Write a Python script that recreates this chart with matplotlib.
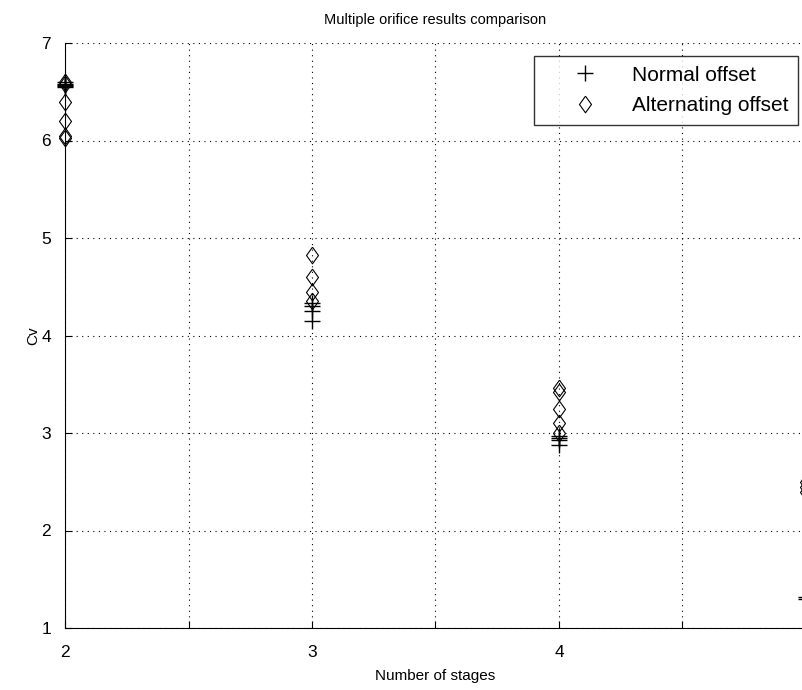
import numpy as np
import matplotlib
matplotlib.use("Agg")
import matplotlib.pyplot as plt

plt.rcParams['font.family'] = ['Liberation Sans', 'DejaVu Sans']

# Cv readings per stage count
normal_2 = [6.55, 6.57, 6.6, 6.58, 6.56]
normal_3 = [4.33, 4.3, 4.25, 4.15]
normal_4 = [2.97, 2.95, 2.93, 2.88]
normal_5 = [1.32, 1.3]

alt_2 = [6.6, 6.58, 6.4, 6.2, 6.05, 6.03]
alt_3 = [4.83, 4.6, 4.45, 4.35]
alt_4 = [3.46, 3.42, 3.25, 3.1, 3.0]
alt_5 = [2.5, 2.45, 2.4]

stages = [2, 3, 4, 5]
normal = [normal_2, normal_3, normal_4, normal_5]
alternating = [alt_2, alt_3, alt_4, alt_5]

# diamond a little taller than wide
diamond = [(0, 1), (0.72, 0), (0, -1), (-0.72, 0), (0, 1)]

fig = plt.figure(figsize=(8.03, 6.9), dpi=100)
ax = fig.add_axes([65 / 803, 62 / 690, 741 / 803, 585 / 690])

nx = np.concatenate([[s] * len(v) for s, v in zip(stages, normal)])
ny = np.concatenate(normal)
ax_x = np.concatenate([[s] * len(v) for s, v in zip(stages, alternating)])
ay = np.concatenate(alternating)

ax.plot(nx, ny, '+', color='black', markersize=11, markeredgewidth=1.0,
        label='Normal offset', clip_on=False)
ax.plot(ax_x, ay, marker=diamond, linestyle='none', color='black',
        markerfacecolor='none', markersize=12, markeredgewidth=0.8,
        label='Alternating offset', clip_on=False)

ax.set_xlim(2, 5)
ax.set_ylim(1, 7)
ax.set_xticks([2, 2.5, 3, 3.5, 4, 4.5, 5])
ax.set_xticklabels(['2', '', '3', '', '4', '', '5'])
ax.set_yticks([1, 2, 3, 4, 5, 6, 7])

ax.grid(True, linestyle=(0, (1, 4)), color='black', linewidth=0.8)
ax.spines['top'].set_visible(False)
ax.spines['right'].set_visible(False)
ax.tick_params(direction='in', length=5, labelsize=12.5)
ax.tick_params(axis='x', pad=12)
ax.tick_params(axis='y', pad=10)

ax.set_title('Multiple orifice results comparison', fontsize=10.5, pad=14)
ax.set_xlabel('Number of stages', fontsize=11, labelpad=7)
ax.set_ylabel('Cv', fontsize=11, labelpad=1)

leg = ax.legend(loc='upper right', bbox_to_anchor=((798 - 65) / 741, 1 - 13 / 585),
                fontsize=15, frameon=True, fancybox=False, edgecolor='black',
                handletextpad=0.3, borderpad=0.47, labelspacing=0.55,
                handlelength=3.9, borderaxespad=0)
leg.get_frame().set_linewidth(1.0)

plt.savefig('out.png', dpi=100)
